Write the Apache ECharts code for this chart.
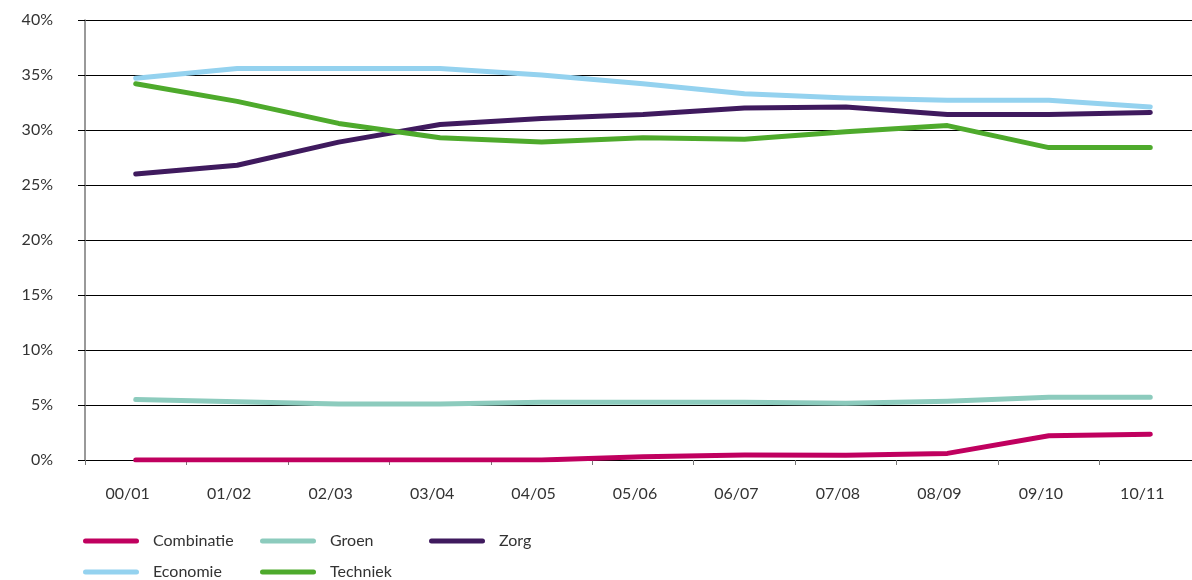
<!DOCTYPE html>
<html>
<head>
<meta charset="utf-8">
<script src="https://cdn.jsdelivr.net/npm/echarts@6/dist/echarts.min.js"></script>
<style>
  html, body { margin: 0; padding: 0; background: #fff; }
  #chart { width: 1192px; height: 580px; }
</style>
</head>
<body>
<div id="chart"></div>
<script>
// School years on the category axis
const years = ['00/01', '01/02', '02/03', '03/04', '04/05', '05/06', '06/07', '07/08', '08/09', '09/10', '10/11'];

// Share per sector, in percent
const combinatie = [0, 0, 0, 0, 0, 0.3, 0.45, 0.43, 0.6, 2.2, 2.35];
const economie   = [34.7, 35.6, 35.6, 35.6, 35.0, 34.2, 33.3, 32.9, 32.7, 32.7, 32.1];
const groen      = [5.5, 5.3, 5.1, 5.1, 5.25, 5.25, 5.25, 5.15, 5.35, 5.7, 5.7];
const techniek   = [34.2, 32.6, 30.6, 29.3, 28.9, 29.3, 29.15, 29.85, 30.4, 28.4, 28.4];
const zorg       = [26.0, 26.8, 28.9, 30.5, 31.05, 31.4, 32.0, 32.1, 31.4, 31.4, 31.6];

const colors = {
  Combinatie: '#c0005f',
  Economie: '#94d2ef',
  Groen: '#8ccbbd',
  Techniek: '#4eaa2c',
  Zorg: '#3f1a5e'
};

const font = 'Lato, "Open Sans", sans-serif';
const capsule = 'path://M2.5,0 H53.5 A2.5,2.5 0 0 1 53.5,5 H2.5 A2.5,2.5 0 0 1 2.5,0 Z';

function lineSeries(name, data) {
  return {
    name: name,
    type: 'line',
    data: data,
    symbol: 'none',
    lineStyle: { width: 5, color: colors[name], cap: 'round', join: 'round' },
    itemStyle: { color: colors[name] }
  };
}

// One legend entry per block so the entries sit on a fixed 3-column grid
function legendItem(name, left, top) {
  return {
    left: left,
    top: top,
    padding: 0,
    itemWidth: 56,
    itemHeight: 5,
    icon: capsule,
    data: [name],
    selectedMode: false,
    textStyle: { fontFamily: font, fontSize: 16, color: '#333', padding: [0, 0, 0, 9] }
  };
}

const chart = echarts.init(document.getElementById('chart'), null, { renderer: 'canvas' });
chart.setOption({
  animation: false,
  backgroundColor: '#fff',
  // plot area runs slightly past the right edge of the canvas
  grid: { left: 85, width: 1116, top: 20, height: 440, outerBoundsMode: 'none', containLabel: false },
  legend: [
    legendItem('Combinatie', 83, 533),
    legendItem('Economie', 83, 564),
    legendItem('Groen', 260, 533),
    legendItem('Techniek', 260, 564),
    legendItem('Zorg', 429, 533)
  ],
  xAxis: {
    type: 'category',
    data: years,
    boundaryGap: true,
    axisLine: { show: true, lineStyle: { color: '#000', width: 1 } },
    axisTick: { show: true, length: 5, lineStyle: { color: '#777' } },
    axisLabel: {
      margin: 26,
      fontFamily: font,
      fontSize: 16,
      color: '#333',
      padding: [0, 16, 0, 0]
    }
  },
  yAxis: {
    type: 'value',
    min: 0,
    max: 40,
    interval: 5,
    axisLine: { show: true, lineStyle: { color: '#777', width: 1.5 } },
    axisTick: { show: true, length: 7, lineStyle: { color: '#000' } },
    splitLine: { show: true, lineStyle: { color: '#000', width: 1 } },
    axisLabel: {
      margin: 32,
      fontFamily: font,
      fontSize: 16,
      color: '#333',
      formatter: '{value}%'
    }
  },
  series: [
    lineSeries('Combinatie', combinatie),
    lineSeries('Groen', groen),
    lineSeries('Economie', economie),
    lineSeries('Zorg', zorg),
    lineSeries('Techniek', techniek)
  ]
});
</script>
</body>
</html>
